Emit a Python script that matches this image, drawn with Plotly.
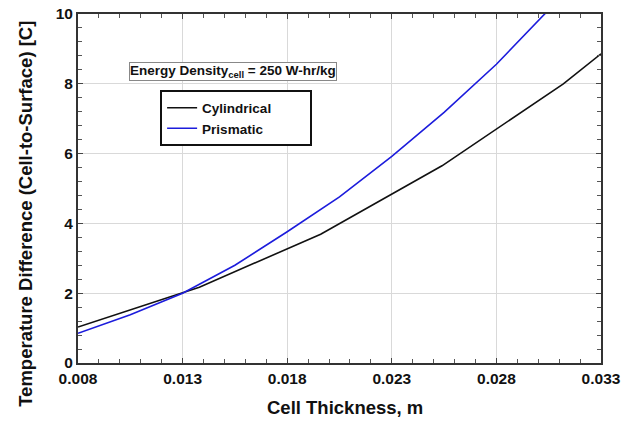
import plotly.graph_objects as go

# Data
cyl_x = [0.008, 0.0138, 0.0196, 0.0254, 0.0312, 0.033]
cyl_y = [1.03, 2.17, 3.69, 5.65, 8.00, 8.86]

pri_x = [0.008, 0.0105, 0.013, 0.0155, 0.018, 0.0205, 0.023, 0.0255, 0.028, 0.0305]
pri_y = [0.85, 1.38, 2.00, 2.80, 3.76, 4.76, 5.92, 7.18, 8.56, 10.12]

x_ticks = [0.008, 0.013, 0.018, 0.023, 0.028, 0.033]
x_tick_labels = ["0.008", "0.013", "0.018", "0.023", "0.028", "0.033"]
y_ticks = [0, 2, 4, 6, 8, 10]

FONT = "Liberation Sans, Arial, sans-serif"
PAD = "\u00a0" * 9

fig = go.Figure()
fig.add_trace(go.Scatter(x=cyl_x, y=cyl_y, mode="lines", name="Cylindrical" + PAD,
                         line=dict(color="#111111", width=1.6)))
fig.add_trace(go.Scatter(x=pri_x, y=pri_y, mode="lines", name="Prismatic" + PAD,
                         line=dict(color="#1c1cdc", width=1.6)))

axis_common = dict(
    showline=True, linecolor="#333333", linewidth=2, mirror="ticks",
    ticks="inside", ticklen=5, tickcolor="#444444", tickwidth=1,
    showgrid=True, gridcolor="#d9d9d9", gridwidth=1,
    zeroline=False, automargin=False,
    tickfont=dict(family=FONT, size=15.5, color="#111111", weight="bold"),
)

fig.update_xaxes(range=[0.008, 0.033], tickvals=x_ticks, ticktext=x_tick_labels,
                 minor=dict(dtick=0.001, ticks="inside", ticklen=4, tickcolor="#555555", showgrid=False),
                 **axis_common)
fig.update_yaxes(range=[0, 10], tickvals=y_ticks,
                 minor=dict(dtick=0.4, ticks="inside", ticklen=4, tickcolor="#555555", showgrid=False),
                 **axis_common)

fig.update_layout(
    width=632, height=423,
    margin=dict(l=78, r=31, t=14, b=60, pad=0),
    paper_bgcolor="white", plot_bgcolor="white",
    showlegend=True,
    legend=dict(x=0.157, y=0.781, xanchor="left", yanchor="top",
                bgcolor="white", bordercolor="#111111", borderwidth=2,
                font=dict(family=FONT, size=13.5, color="#111111", weight="bold"),
                itemwidth=30, tracegroupgap=0),
    annotations=[
        dict(text="Energy Density<sub>cell</sub> = 250 W-hr/kg",
             xref="paper", yref="paper", x=0.297, y=0.836,
             xanchor="center", yanchor="middle", showarrow=False,
             font=dict(family=FONT, size=13.5, color="#111111", weight="bold"),
             bgcolor="white", bordercolor="#888888", borderwidth=1, borderpad=0),
        dict(text="Cell Thickness, m", xref="paper", yref="paper",
             x=0.511, y=-0.128, xanchor="center", yanchor="middle", showarrow=False,
             font=dict(family=FONT, size=18.5, color="#111111", weight="bold")),
        dict(text="Temperature Difference (Cell-to-Surface) [C]", xref="paper", yref="paper",
             x=-0.101, y=0.428, xanchor="center", yanchor="middle", showarrow=False,
             textangle=-90,
             font=dict(family=FONT, size=18.5, color="#111111", weight="bold")),
    ],
)

fig.write_html("out.html")
